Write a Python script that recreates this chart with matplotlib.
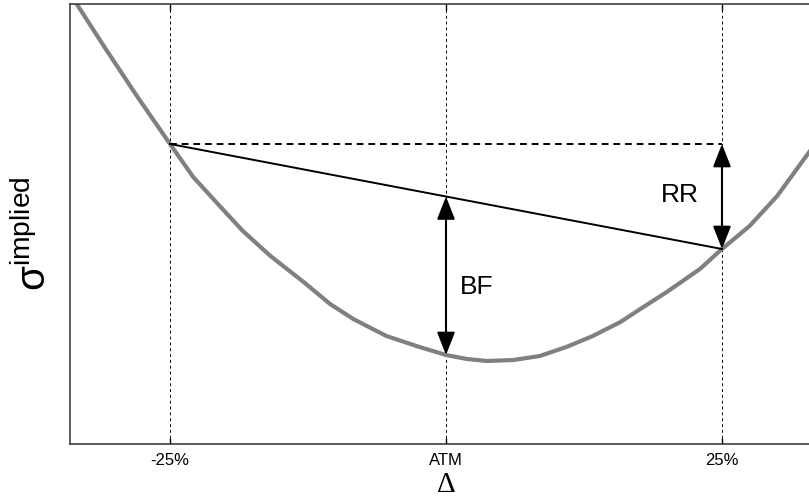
import matplotlib
matplotlib.use("Agg")
import matplotlib.pyplot as plt

# ---- data (delta in %, implied vol in arbitrary vol units) ----
delta_curve = [-34.1, -33.45, -31.0, -28.0, -25.0, -22.9, -20.5, -18.4, -15.9, -12.9, -10.5,
               -8.4, -5.4, -2.4, 0.0, 1.9, 3.7, 6.1, 8.5, 10.9, 13.3, 15.8, 17.6, 20.0,
               23.0, 25.0, 27.5, 30.0, 32.9, 34.1]
vol_curve = [13.50, 13.40, 12.98, 12.48, 12.00, 11.67, 11.38, 11.13, 10.88, 10.62, 10.40,
             10.25, 10.08, 9.97, 9.89, 9.85, 9.83, 9.84, 9.88, 9.97, 10.08, 10.22, 10.35, 10.52,
             10.75, 10.95, 11.18, 11.48, 11.92, 12.08]

pillar_delta = [-25, 0, 25]
pillar_vol = [12.00, 9.89, 10.95]
tick_labels = ["-25%", "ATM", "25%"]

plt.rcParams['font.family'] = ['Liberation Sans', 'DejaVu Sans']
plt.rcParams['mathtext.fontset'] = 'custom'
plt.rcParams['mathtext.rm'] = 'Liberation Sans'
plt.rcParams['mathtext.it'] = 'Liberation Sans:italic'
plt.rcParams['mathtext.bf'] = 'Liberation Sans:bold'

fig = plt.figure(figsize=(8.09, 5.02), dpi=100)
ax = fig.add_axes([70/809, 57/502, 752/809, 440/502])

ax.set_xlim(-34.06, 34.06)
ax.set_ylim(9.0, 13.4)

# smile curve
ax.plot(delta_curve, vol_curve, color='0.5', lw=3.0, solid_joinstyle='round', zorder=2)

v_put, v_atm, v_call = pillar_vol[0], pillar_vol[1], pillar_vol[2]
d_put, d_atm, d_call = pillar_delta

# horizontal dashed from 25D put level
ax.plot([d_put, d_call], [v_put, v_put], color='k', lw=1.4, ls=(0, (3.5, 2.5)), zorder=3)
# straight line between wings
ax.plot([d_put, d_call], [v_put, v_call], color='k', lw=1.4, zorder=3)

line_atm = v_put + (v_call - v_put) * (d_atm - d_put) / (d_call - d_put)

arrow_style = '<|-|>,head_length=1.4,head_width=0.55'
ax.annotate('', xy=(d_atm, v_atm), xytext=(d_atm, line_atm),
            arrowprops=dict(arrowstyle=arrow_style, color='k', lw=1.5,
                            mutation_scale=10, shrinkA=0, shrinkB=0), zorder=4)
ax.annotate('', xy=(d_call, v_call), xytext=(d_call, v_put),
            arrowprops=dict(arrowstyle=arrow_style, color='k', lw=1.5,
                            mutation_scale=10, shrinkA=0, shrinkB=0), zorder=4)

ax.text(2.8, 10.58, "BF", fontsize=19, ha='center', va='center')
ax.text(21.2, 11.50, "RR", fontsize=19, ha='center', va='center')

# axes styling
ax.set_xticks(pillar_delta)
ax.set_xticklabels(tick_labels, fontsize=12)
ax.set_yticks([])
ax.tick_params(axis='x', direction='in', length=4, width=1.0, pad=6, top=True)
ax.xaxis.grid(True, color='k', lw=0.7, ls=(0, (3, 3)))
ax.set_axisbelow(True)
for side in ['left', 'top', 'bottom']:
    ax.spines[side].set_color('0.25')
    ax.spines[side].set_linewidth(1.2)
ax.spines['right'].set_visible(False)

ax.set_xlabel("Δ", fontsize=21, family=['Liberation Serif', 'DejaVu Serif'])
ax.xaxis.set_label_coords(0.5, -0.062)
ax.set_ylabel(r'$\mathrm{\sigma}^{\mathrm{implied}}$', fontsize=29)
ax.yaxis.set_label_coords(-0.021, 0.48)

fig.savefig("out.png", dpi=100)
